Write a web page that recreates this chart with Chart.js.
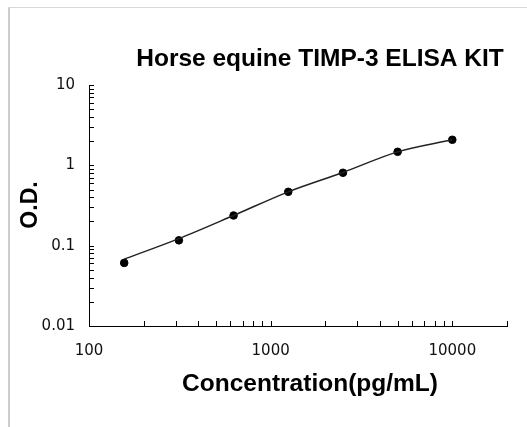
<!DOCTYPE html>
<html lang="en">
<head>
<meta charset="UTF-8">
<title>Horse equine TIMP-3 ELISA KIT</title>
<script src="https://cdn.jsdelivr.net/npm/chart.js"></script>
<style>
    html, body { margin: 0; padding: 0; background: #fff; }
    #wrap { position: relative; width: 527px; height: 427px; overflow: hidden; }
    #wrap canvas { position: absolute; left: 0; top: 0; }
    .frame { position: absolute; left: 8px; top: 7px; right: 0; bottom: 0; border-top: 1px solid #d9d9d9; border-left: 2px solid #cdcdcd; pointer-events: none; }
</style>
</head>
<body>
<div id="wrap">
    <canvas id="curve" width="527" height="427"></canvas>
    <div class="frame"></div>
</div>
<script>
// standards: concentration (pg/mL) vs measured optical density
const concentrations = [156.25, 312.5, 625, 1250, 2500, 5000, 10000];
const odValues = [0.061, 0.1165, 0.2375, 0.468, 0.808, 1.474, 2.08];
// fitted standard curve, read at the same concentrations
const fitValues = [0.068, 0.1225, 0.2375, 0.468, 0.815, 1.472, 2.08];

const xTickValues = [100, 1000, 10000];
const xTickLabels = ['100', '1000', '10000'];
const yTickValues = [0.01, 0.1, 1, 10];
const yTickLabels = ['0.01', '0.1', '1', '10'];

const chartTitle = 'Horse equine TIMP-3 ELISA KIT';
const xTitle = 'Concentration(pg/mL)';
const yTitle = 'O.D.';

// tick marks at 1..9 within each decade, up to and including hi
function decadeMarks(lo, hi) {
    const out = [];
    for (let d = lo; d < hi * 0.999; d *= 10) {
        for (let k = 1; k <= 9; k++) out.push(d * k);
    }
    out.push(hi);
    return out;
}
const xMarks = decadeMarks(100, 10000).concat([20000]);
const yMarks = decadeMarks(0.01, 10);

const labelFont = 'bold 24.5px "Liberation Sans", Arial, sans-serif';

// inward ticks on both axes plus the titles
const decorations = {
    id: 'decorations',
    afterDraw(chart) {
        const { ctx, chartArea, scales } = chart;
        const left = Math.round(chartArea.left);
        const bottom = Math.round(chartArea.bottom);
        ctx.save();
        ctx.strokeStyle = '#000';
        ctx.lineWidth = 1;
        ctx.beginPath();
        xMarks.forEach(v => {
            const px = Math.round(scales.x.getPixelForValue(v)) + 0.5;
            ctx.moveTo(px, bottom);
            ctx.lineTo(px, bottom - 5);
        });
        ctx.stroke();
        ctx.beginPath();
        yMarks.forEach(v => {
            const py = Math.round(scales.y.getPixelForValue(v)) + 0.5;
            ctx.moveTo(left, py);
            ctx.lineTo(left + 5, py);
        });
        ctx.stroke();

        ctx.fillStyle = '#000';
        ctx.textAlign = 'center';
        ctx.textBaseline = 'alphabetic';
        ctx.font = labelFont;
        ctx.fillText(chartTitle, 320, 66);
        ctx.fillText(xTitle, 310, 391);

        ctx.translate(36.5, 205);
        ctx.rotate(-Math.PI / 2);
        ctx.font = 'bold 23px "Liberation Sans", Arial, sans-serif';
        ctx.fillText(yTitle, 0, 0);
        ctx.restore();
    }
};

const tickFont = { family: '"DejaVu Sans", Verdana, sans-serif', size: 15 };

new Chart(document.getElementById('curve').getContext('2d'), {
    type: 'scatter',
    data: {
        datasets: [{
            // fitted curve
            data: concentrations.map((c, i) => ({ x: c, y: fitValues[i] })),
            showLine: true,
            cubicInterpolationMode: 'monotone',
            borderColor: '#222',
            borderWidth: 1.5,
            pointRadius: 0,
            pointHoverRadius: 0
        }, {
            // standards
            data: concentrations.map((c, i) => ({ x: c, y: odValues[i] })),
            showLine: false,
            pointRadius: 3.8,
            pointHoverRadius: 3.8,
            pointBackgroundColor: '#000',
            pointBorderColor: '#000'
        }]
    },
    options: {
        responsive: false,
        animation: false,
        devicePixelRatio: 1,
        layout: { padding: { top: 85, right: 20, bottom: 0, left: 0 } },
        plugins: { legend: { display: false }, tooltip: { enabled: false } },
        scales: {
            x: {
                type: 'logarithmic',
                min: 100,
                max: 20000,
                afterFit: s => { s.height = 101; },
                afterBuildTicks: s => { s.ticks = xTickValues.map(v => ({ value: v })); },
                grid: { display: false, drawTicks: false },
                border: { display: true, color: '#000', width: 1 },
                ticks: {
                    autoSkip: false,
                    maxRotation: 0,
                    padding: 16,
                    color: '#111',
                    font: tickFont,
                    callback: (v, i) => xTickLabels[i]
                }
            },
            y: {
                type: 'logarithmic',
                min: 0.01,
                max: 10,
                afterFit: s => { s.width = 89; },
                afterBuildTicks: s => { s.ticks = yTickValues.map(v => ({ value: v })); },
                grid: { display: false, drawTicks: false },
                border: { display: true, color: '#000', width: 1 },
                ticks: {
                    autoSkip: false,
                    padding: 14,
                    color: '#111',
                    font: tickFont,
                    callback: (v, i) => yTickLabels[i]
                }
            }
        }
    },
    plugins: [decorations]
});
</script>
</body>
</html>
